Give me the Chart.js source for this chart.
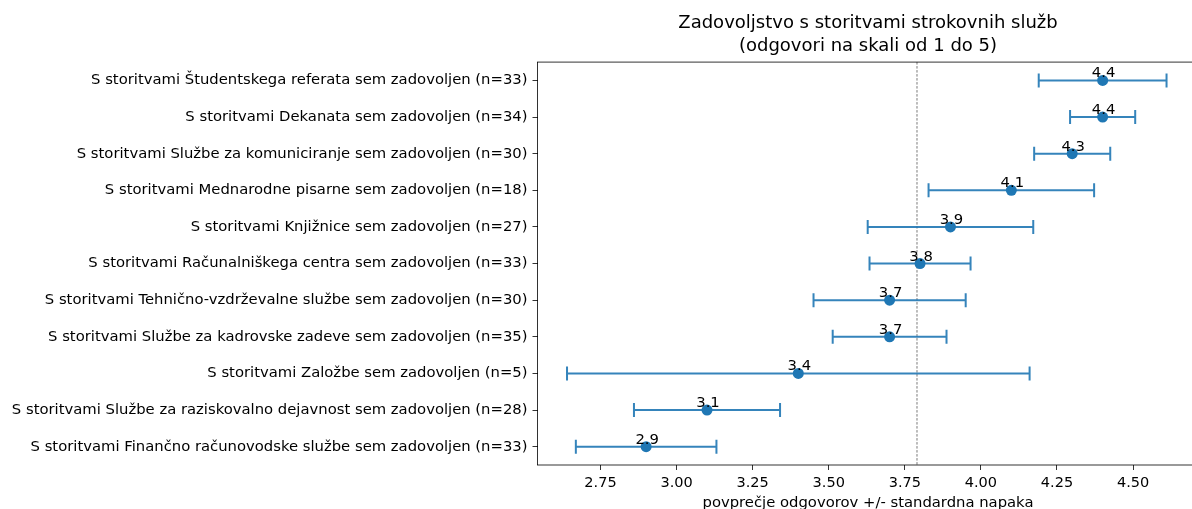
<!DOCTYPE html>
<html>
<head>
<meta charset="utf-8">
<script src="https://cdn.jsdelivr.net/npm/chart.js@4/dist/chart.umd.min.js"></script>
<style>
  html, body { margin: 0; padding: 0; overflow: hidden; background: #fff; }
  #wrap { width: 1204px; height: 522px; }
</style>
</head>
<body>
<div id="wrap"><canvas id="errChart" width="1204" height="522"></canvas></div>
<script>
// services, top to bottom
const categories = [
    'S storitvami Študentskega referata sem zadovoljen (n=33)',
    'S storitvami Dekanata sem zadovoljen (n=34)',
    'S storitvami Službe za komuniciranje sem zadovoljen (n=30)',
    'S storitvami Mednarodne pisarne sem zadovoljen (n=18)',
    'S storitvami Knjižnice sem zadovoljen (n=27)',
    'S storitvami Računalniškega centra sem zadovoljen (n=33)',
    'S storitvami Tehnično-vzdrževalne službe sem zadovoljen (n=30)',
    'S storitvami Službe za kadrovske zadeve sem zadovoljen (n=35)',
    'S storitvami Založbe sem zadovoljen (n=5)',
    'S storitvami Službe za raziskovalno dejavnost sem zadovoljen (n=28)',
    'S storitvami Finančno računovodske službe sem zadovoljen (n=33)'
];
const means = [4.40, 4.40, 4.30, 4.10, 3.90, 3.80, 3.70, 3.70, 3.40, 3.10, 2.90];
const stdErrors = [0.21, 0.107, 0.125, 0.272, 0.272, 0.166, 0.25, 0.187, 0.76, 0.24, 0.231];
const overallMean = 3.79;
const xTicks = [2.75, 3.00, 3.25, 3.50, 3.75, 4.00, 4.25, 4.50];

const FONT = "'DejaVu Sans', sans-serif";
const BLUE = '#1f77b4';

// mean line + error bars under the dots
const errorBars = {
    id: 'errorBars',
    beforeDatasetsDraw(chart) {
        const {ctx, chartArea, scales: {x, y}} = chart;
        ctx.save();
        const mx = x.getPixelForValue(overallMean);
        ctx.strokeStyle = '#555';
        ctx.lineWidth = 0.8;
        ctx.setLineDash([2.5, 1.5]);
        ctx.beginPath();
        ctx.moveTo(mx, chartArea.top);
        ctx.lineTo(mx, chartArea.bottom);
        ctx.stroke();
        ctx.setLineDash([]);

        ctx.strokeStyle = 'rgba(31,119,180,0.9)';
        ctx.lineWidth = 2;
        means.forEach((m, i) => {
            const py = y.getPixelForValue(i);
            const x1 = x.getPixelForValue(m - stdErrors[i]);
            const x2 = x.getPixelForValue(m + stdErrors[i]);
            ctx.beginPath();
            ctx.moveTo(x1, py);
            ctx.lineTo(x2, py);
            ctx.moveTo(x1, py - 7);
            ctx.lineTo(x1, py + 7);
            ctx.moveTo(x2, py - 7);
            ctx.lineTo(x2, py + 7);
            ctx.stroke();
        });
        ctx.restore();
    },
    afterDatasetsDraw(chart) {
        const {ctx, scales: {x, y}} = chart;
        ctx.save();
        ctx.fillStyle = '#000';
        ctx.font = '14.8px ' + FONT;
        ctx.textAlign = 'center';
        ctx.textBaseline = 'alphabetic';
        means.forEach((m, i) => {
            ctx.fillText(m.toFixed(1), x.getPixelForValue(m) + 1, y.getPixelForValue(i) - 3);
        });
        ctx.restore();
    },
    afterDraw(chart) {
        const {ctx, chartArea} = chart;
        ctx.save();
        ctx.strokeStyle = '#000';
        ctx.lineWidth = 0.8;
        ctx.strokeRect(chartArea.left, chartArea.top, chartArea.right - chartArea.left, chartArea.bottom - chartArea.top);
        ctx.restore();
    }
};

const ctx = document.getElementById('errChart').getContext('2d');
new Chart(ctx, {
    type: 'scatter',
    data: {
        labels: categories,
        datasets: [{
            data: means.map((m, i) => ({x: m, y: i})),
            backgroundColor: BLUE,
            borderWidth: 0,
            pointRadius: 5.5,
            pointHoverRadius: 5.5
        }]
    },
    options: {
        responsive: false,
        animation: false,
        layout: { padding: 0 },
        plugins: {
            legend: { display: false },
            tooltip: { enabled: false },
            title: {
                display: true,
                fullSize: false,
                text: ['Zadovoljstvo s storitvami strokovnih služb', '(odgovori na skali od 1 do 5)'],
                color: '#000',
                font: { family: FONT, size: 18, weight: 'normal', lineHeight: 1.28 },
                padding: { top: 12, bottom: 4 }
            }
        },
        scales: {
            x: {
                type: 'linear',
                min: 2.543,
                max: 4.715,
                afterBuildTicks(scale) {
                    scale.ticks = xTicks.map(v => ({value: v}));
                },
                afterFit(scale) { scale.height = 57; },
                grid: { drawOnChartArea: false, color: '#000', lineWidth: 0.8, tickLength: 5 },
                border: { display: false },
                ticks: {
                    color: '#000',
                    padding: 5,
                    maxRotation: 0,
                    font: { family: FONT, size: 14.5 },
                    callback: v => v.toFixed(2)
                },
                title: {
                    display: true,
                    text: 'povprečje odgovorov +/- standardna napaka',
                    color: '#000',
                    font: { family: FONT, size: 14.8 },
                    padding: { top: 4, bottom: 10 }
                }
            },
            y: {
                type: 'category',
                offset: true,
                afterFit(scale) { scale.width = 537.5; },
                grid: { drawOnChartArea: false, offset: false, color: '#000', lineWidth: 0.8, tickLength: 5 },
                border: { display: false },
                ticks: {
                    color: '#000',
                    padding: 5,
                    autoSkip: false,
                    font: { family: FONT, size: 14.8 }
                }
            }
        }
    },
    plugins: [errorBars]
});
</script>
</body>
</html>
